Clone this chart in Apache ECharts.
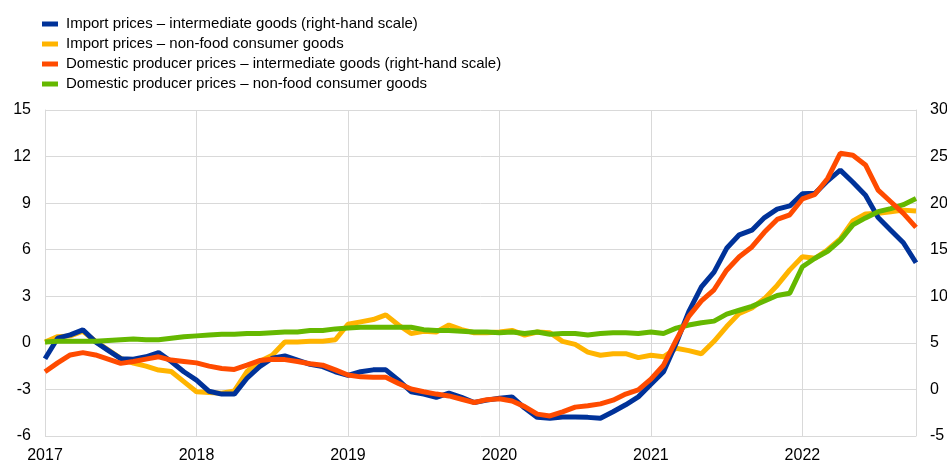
<!DOCTYPE html>
<html>
<head>
<meta charset="utf-8">
<script src="https://cdn.jsdelivr.net/npm/echarts@6/dist/echarts.min.js"></script>
<style>
html,body{margin:0;padding:0;background:#fff;}
#chart{width:947px;height:464px;}
</style>
</head>
<body>
<div id="chart"></div>
<script>
// Monthly, Jan 2017 – Oct 2022
var years = [2017, 2018, 2019, 2020, 2021, 2022];
var months = [];
for (var yi = 0; yi < years.length; yi++) {
  for (var m = 1; m <= 12; m++) {
    if (years[yi] === 2022 && m > 10) break;
    months.push(years[yi] + '-' + (m < 10 ? '0' + m : m));
  }
}

var seriesNames = [
  'Import prices \u2013 intermediate goods (right-hand scale)',
  'Import prices \u2013 non-food consumer goods',
  'Domestic producer prices \u2013 intermediate goods (right-hand scale)',
  'Domestic producer prices \u2013 non-food consumer goods'
];

// right-hand scale
var importIntermediate = [
  3.3, 5.5, 5.85, 6.4, 5.1, 4.2, 3.3, 3.25, 3.5, 3.95, 3.0, 1.9,
  1.0, -0.2, -0.5, -0.5, 1.2, 2.45, 3.35, 3.6, 3.15, 2.7, 2.45, 1.9,
  1.5, 1.9, 2.1, 2.1, 1.0, -0.25, -0.5, -0.85, -0.4, -0.85, -1.4, -1.15,
  -0.95, -0.8, -2.0, -3.0, -3.1, -2.95, -2.95, -3.0, -3.1, -2.4, -1.65, -0.8,
  0.55, 1.9, 4.95, 8.35, 11.0, 12.6, 15.15, 16.6, 17.1, 18.45, 19.35, 19.7,
  21.0, 21.05, 22.4, 23.55, 22.25, 20.85, 18.45, 17.1, 15.75, 13.6
];
// left-hand scale
var importNonFood = [
  0.05, 0.4, 0.45, 0.75, 0.1, -0.45, -1.0, -1.3, -1.5, -1.75, -1.85, -2.5,
  -3.15, -3.2, -3.25, -3.1, -1.85, -1.2, -0.8, 0.05, 0.05, 0.1, 0.1, 0.2,
  1.2, 1.35, 1.5, 1.8, 1.15, 0.6, 0.75, 0.7, 1.15, 0.85, 0.65, 0.65,
  0.7, 0.8, 0.5, 0.7, 0.65, 0.1, -0.1, -0.6, -0.8, -0.7, -0.7, -0.95,
  -0.8, -0.9, -0.35, -0.5, -0.7, 0.1, 1.05, 1.9, 2.25, 2.85, 3.7, 4.7,
  5.55, 5.45, 6.0, 6.7, 7.85, 8.3, 8.35, 8.45, 8.55, 8.5
];
// right-hand scale
var domesticIntermediate = [
  1.9, 2.85, 3.7, 3.95, 3.7, 3.25, 2.8, 3.0, 3.25, 3.5, 3.15, 3.0,
  2.85, 2.5, 2.25, 2.15, 2.6, 3.1, 3.25, 3.2, 3.0, 2.75, 2.6, 2.1,
  1.55, 1.35, 1.3, 1.3, 0.65, 0.05, -0.25, -0.5, -0.7, -1.05, -1.4, -1.1,
  -1.0, -1.25, -1.85, -2.65, -2.85, -2.4, -1.9, -1.75, -1.55, -1.15, -0.5, -0.05,
  1.1, 2.6, 5.3, 7.85, 9.5, 10.7, 12.8, 14.25, 15.3, 16.9, 18.25, 18.75,
  20.45, 20.95, 22.65, 25.35, 25.15, 24.1, 21.4, 20.15, 18.9, 17.4
];
// left-hand scale
var domesticNonFood = [
  0.05, 0.1, 0.1, 0.1, 0.1, 0.15, 0.2, 0.25, 0.2, 0.2, 0.3, 0.4,
  0.45, 0.5, 0.55, 0.55, 0.6, 0.6, 0.65, 0.7, 0.7, 0.8, 0.8, 0.9,
  0.95, 1.0, 1.0, 1.0, 1.0, 1.0, 0.85, 0.8, 0.8, 0.75, 0.7, 0.7,
  0.65, 0.7, 0.6, 0.7, 0.55, 0.6, 0.6, 0.5, 0.6, 0.65, 0.65, 0.6,
  0.7, 0.6, 0.95, 1.15, 1.3, 1.4, 1.85, 2.1, 2.35, 2.7, 3.05, 3.2,
  4.9, 5.45, 5.9, 6.6, 7.6, 8.05, 8.45, 8.65, 8.9, 9.3
];

var colors = ['#003299', '#FFB400', '#FF4B00', '#65B800'];
var FONT = 'Arial, "Liberation Sans", sans-serif';
var gridColor = '#d9d9d9';
var lastIdx = months.length - 1;

var chart = echarts.init(document.getElementById('chart'), null, {renderer: 'canvas'});

function lineSeries(name, data, color, yIndex, z) {
  return {
    name: name,
    type: 'line',
    data: data,
    yAxisIndex: yIndex,
    symbol: 'none',
    smooth: false,
    z: z,
    color: color,
    lineStyle: {color: color, width: 5},
    emphasis: {disabled: true},
    animation: false
  };
}

chart.setOption({
  animation: false,
  textStyle: {fontFamily: FONT},
  legend: {
    orient: 'vertical',
    left: 37,
    top: 11,
    icon: 'rect',
    itemWidth: 16,
    itemHeight: 5,
    itemGap: 4,
    data: seriesNames,
    textStyle: {fontFamily: FONT, fontSize: 15, color: '#000', lineHeight: 16, padding: [0, 0, 0, 3]},
    selectedMode: false
  },
  grid: {left: 45, right: 31, top: 110, bottom: 28, containLabel: false, outerBoundsMode: 'none'},
  xAxis: {
    type: 'category',
    data: months,
    boundaryGap: false,
    axisLine: {show: true, lineStyle: {color: gridColor, width: 1}},
    axisTick: {show: false},
    axisLabel: {
      interval: function (i) { return i % 12 === 0; },
      formatter: function (v) { return v.slice(0, 4); },
      fontFamily: FONT, fontSize: 16, color: '#000', margin: 12
    },
    splitLine: {
      show: true,
      interval: function (i) { return i % 12 === 0 || i === lastIdx; },
      lineStyle: {color: gridColor, width: 1}
    }
  },
  yAxis: [
    {
      type: 'value', min: -6, max: 15, interval: 3,
      axisLine: {show: true, lineStyle: {color: gridColor, width: 1}},
      axisTick: {show: false},
      axisLabel: {fontFamily: FONT, fontSize: 16, color: '#000', margin: 14},
      splitLine: {show: true, lineStyle: {color: gridColor, width: 1}}
    },
    {
      type: 'value', min: -5, max: 30, interval: 5,
      axisLine: {show: true, lineStyle: {color: gridColor, width: 1}},
      axisTick: {show: false},
      axisLabel: {fontFamily: FONT, fontSize: 16, color: '#000', margin: 14},
      splitLine: {show: false}
    }
  ],
  series: [
    lineSeries(seriesNames[0], importIntermediate, colors[0], 1, 3),
    lineSeries(seriesNames[1], importNonFood, colors[1], 0, 2),
    lineSeries(seriesNames[2], domesticIntermediate, colors[2], 1, 5),
    lineSeries(seriesNames[3], domesticNonFood, colors[3], 0, 4)
  ]
});
</script>
</body>
</html>
